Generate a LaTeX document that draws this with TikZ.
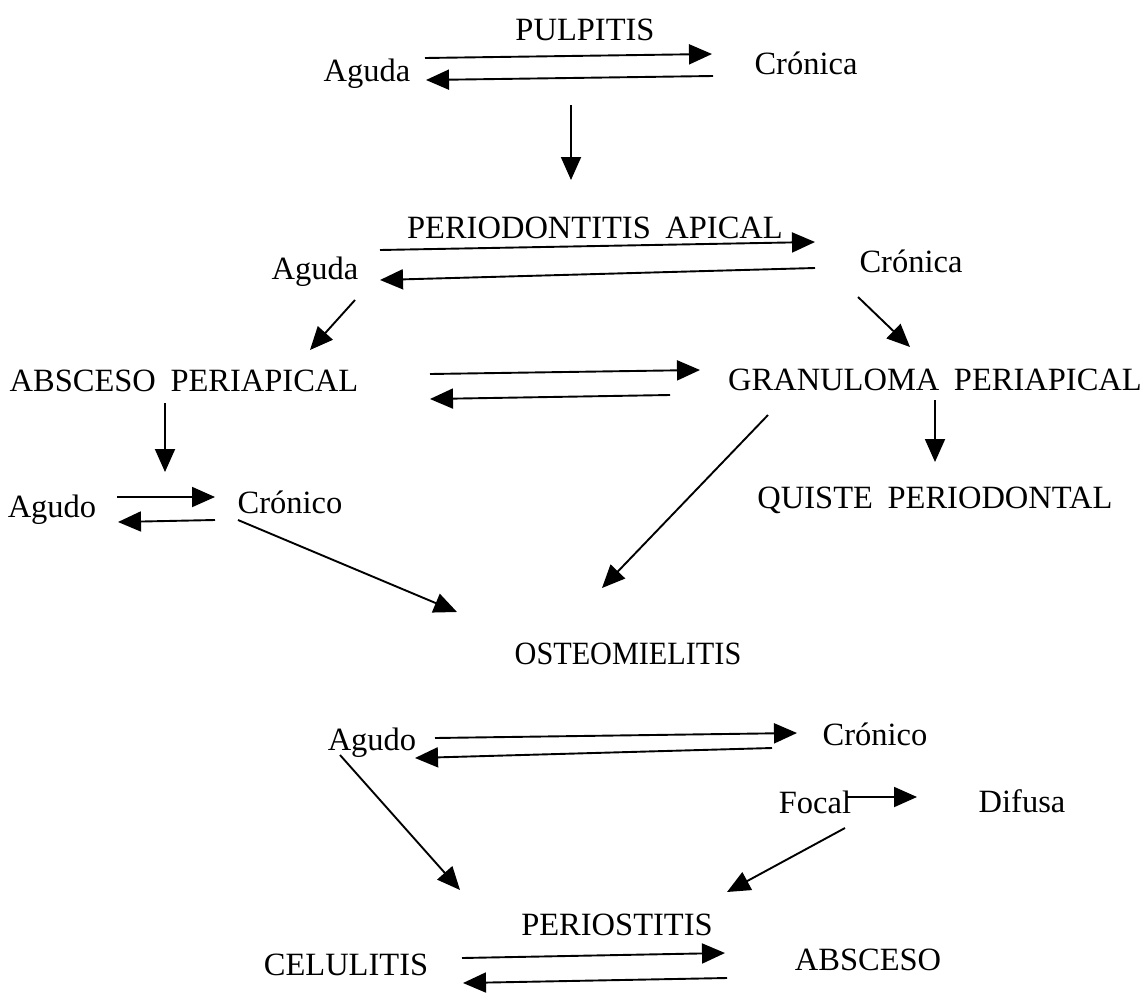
\documentclass[tikz,border=0pt]{standalone}
\usepackage{fontspec}
\usepackage{graphicx}
\setmainfont{Liberation Serif}
\usetikzlibrary{arrows.meta}
\begin{document}
\begin{tikzpicture}[x=1pt,y=-1pt,
  lbl/.style={inner sep=0pt, font=\fontsize{32.5}{39}\selectfont, anchor=base},
  arr/.style={line width=1.9pt, -{Triangle[length=23pt,width=20pt]}}]
\useasboundingbox[fill=white] (0,0) rectangle (1148,1004);
% nodes
\node[lbl] (pul)  at (585,40)  {PULPITIS};
\node[lbl] (ag1)  at (367,81)  {Aguda};
\node[lbl] (cr1)  at (806,74)  {Crónica};
\node[lbl] (pa)   at (595,238) {PERIODONTITIS\hspace{0.45em}APICAL};
\node[lbl] (ag2)  at (315,279) {Aguda};
\node[lbl] (cr2)  at (911,272) {Crónica};
\node[lbl] (ap)   at (184,391) {ABSCESO\hspace{0.45em}PERIAPICAL};
\node[lbl] (gp)   at (935,390) {GRANULOMA\hspace{0.45em}PERIAPICAL};
\node[lbl] (ag3)  at (52,517)  {Agudo};
\node[lbl] (cro3) at (290,513) {Crónico};
\node[lbl] (qp)   at (935,508) {QUISTE\hspace{0.45em}PERIODONTAL};
\node[lbl] (os)   at (628,664) {\scalebox{0.93}[1]{OSTEOMIELITIS}};
\node[lbl] (ag4)  at (372,750) {Agudo};
\node[lbl] (cro4) at (875,745) {Crónico};
\node[lbl] (foc)  at (815,813) {Focal};
\node[lbl] (dif)  at (1022,812) {Difusa};
\node[lbl] (peri) at (617,935) {PERIOSTITIS};
\node[lbl] (cel)  at (346,975) {CELULITIS};
\node[lbl] (abs)  at (868,970) {ABSCESO};
% connectors
\draw[arr] ([shift={(58,-23)}]ag1.base) -- ([shift={(-94,-20)}]cr1.base);
\draw[arr] ([shift={(-93,2)}]cr1.base) -- ([shift={(59,-1)}]ag1.base);
\draw[arr] ([shift={(-14,65)}]pul.base) -- ([shift={(-24,-58)}]pa.base);
\draw[arr] ([shift={(65,-29)}]ag2.base) -- ([shift={(-96,-30)}]cr2.base);
\draw[arr] ([shift={(-96,-4)}]cr2.base) -- ([shift={(65,1)}]ag2.base);
\draw[arr] ([shift={(40,21)}]ag2.base) -- ([shift={(126,-41)}]ap.base);
\draw[arr] ([shift={(-53,25)}]cr2.base) -- ([shift={(-25,-43)}]gp.base);
\draw[arr] ([shift={(246,-17)}]ap.base) -- ([shift={(-235,-20)}]gp.base);
\draw[arr] ([shift={(-265,5)}]gp.base) -- ([shift={(246,8)}]ap.base);
\draw[arr] ([shift={(-19,12)}]ap.base) -- ([shift={(113,-45)}]ag3.base);
\draw[arr] ([shift={(0,10)}]gp.base) -- ([shift={(0,-46)}]qp.base);
\draw[arr] ([shift={(-167,25)}]gp.base) -- ([shift={(-26,-76)}]os.base);
\draw[arr] ([shift={(65,-20)}]ag3.base) -- ([shift={(-75,-16)}]cro3.base);
\draw[arr] ([shift={(-75,7)}]cro3.base) -- ([shift={(66,5)}]ag3.base);
\draw[arr] ([shift={(-52,7)}]cro3.base) -- ([shift={(-171,-52)}]os.base);
\draw[arr] ([shift={(63,-12)}]ag4.base) -- ([shift={(-78,-12)}]cro4.base);
\draw[arr] ([shift={(-103,3)}]cro4.base) -- ([shift={(43,8)}]ag4.base);
\draw[arr] ([shift={(32,-16)}]foc.base) -- ([shift={(-105,-15)}]dif.base);
\draw[arr] ([shift={(-32,5)}]ag4.base) -- ([shift={(-157,-45)}]peri.base);
\draw[arr] ([shift={(30,15)}]foc.base) -- ([shift={(110,-43)}]peri.base);
\draw[arr] ([shift={(116,-17)}]cel.base) -- ([shift={(-143,-17)}]abs.base);
\draw[arr] ([shift={(-141,8)}]abs.base) -- ([shift={(117,8)}]cel.base);
\end{tikzpicture}
\end{document}
